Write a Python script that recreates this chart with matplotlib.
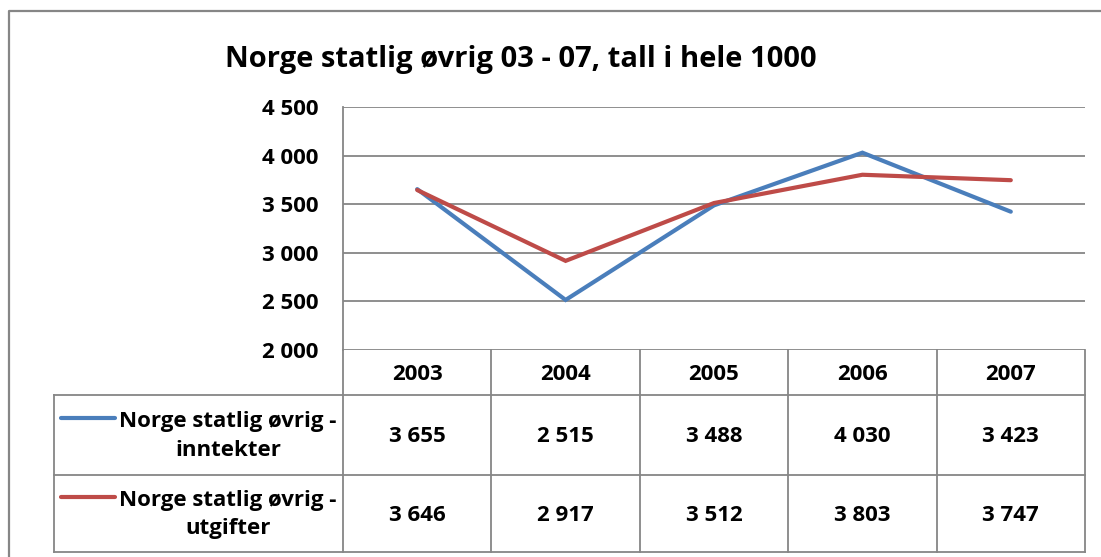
import numpy as np
import matplotlib.pyplot as plt
from matplotlib.lines import Line2D

plt.rcParams['font.family'] = ['Open Sans', 'DejaVu Sans']
plt.rcParams['font.weight'] = 'bold'

# data
years = ['2003', '2004', '2005', '2006', '2007']
inntekter = [3655, 2515, 3488, 4030, 3423]
utgifter = [3646, 2917, 3512, 3803, 3747]
series_names = ['Norge statlig øvrig -\ninntekter', 'Norge statlig øvrig -\nutgifter']
series_colors = ['#4A7EBB', '#BE4B48']
title = 'Norge statlig øvrig 03 - 07, tall i hele 1000'
yticks = [2000, 2500, 3000, 3500, 4000, 4500]

W, H = 1101, 557
grid_c = '#868686'

def px(l, t, r, b):
    return [l / W, 1 - b / H, (r - l) / W, (b - t) / H]

def fmt(v):
    return f'{v:,}'.replace(',', ' ')

fig = plt.figure(figsize=(W / 100, H / 100), dpi=100)

# outer chart frame
fig.add_artist(Line2D([9 / W, 9 / W, 1.0], [0.0, 1 - 11 / H, 1 - 11 / H],
                      transform=fig.transFigure, color=grid_c, lw=1.6))

fig.text(521 / W, 1 - 60 / H, title, ha='center', va='center', fontsize=21, fontweight='bold')

# plot area
ax = fig.add_axes(px(343, 107, 1085, 350))
x = np.arange(len(years))
series = [inntekter, utgifter]
for vals, c in zip(series, series_colors):
    ax.plot(x, vals, color=c, lw=3, solid_capstyle='round', solid_joinstyle='miter')
ax.set_xlim(-0.5, len(years) - 0.5)
ax.set_ylim(2000, 4500)
ax.set_yticks(yticks)
ax.set_yticklabels([fmt(v) for v in yticks], fontsize=16, fontweight='bold')
ax.set_xticks([])
ax.tick_params(axis='y', length=0, pad=18)
for s in ['top', 'right', 'bottom']:
    ax.spines[s].set_visible(False)
ax.spines['left'].set_color(grid_c)
ax.spines['left'].set_linewidth(1.3)
ax.grid(axis='y', color=grid_c, lw=1.3)
ax.set_axisbelow(True)

# data table below the plot, sharing the category scale
colw = (1085 - 343) / len(years)
xleft = -0.5 - (343 - 54) / colw
tab = fig.add_axes(px(54, 350, 1085, 552))
tab.set_xlim(xleft, len(years) - 0.5)
tab.set_ylim(202, 0)
tab.axis('off')
rows = [0, 45, 125, 202]
lk = dict(color=grid_c, lw=1.3, clip_on=False)
for xv in np.arange(len(years) + 1) - 0.5:
    tab.plot([xv, xv], [0, rows[-1]], **lk)
tab.plot([xleft, xleft], [rows[1], rows[-1]], **lk)
for yv in rows[1:]:
    tab.plot([xleft, len(years) - 0.5], [yv, yv], **lk)

for i, yr in enumerate(years):
    tab.text(i, (rows[0] + rows[1]) / 2 + 2, yr, ha='center', va='center', fontsize=16, fontweight='bold')

key_x = [xleft + 7 / colw, xleft + 61 / colw]
text_x = xleft + 174 / colw
for r, (vals, name, c) in enumerate(zip(series, series_names, series_colors)):
    ymid = (rows[r + 1] + rows[r + 2]) / 2
    tab.plot(key_x, [ymid - 17, ymid - 17], color=c, lw=3, solid_capstyle='round', clip_on=False)
    tab.text(text_x, ymid + 1, name, ha='center', va='center', fontsize=16,
             fontweight='bold', linespacing=1.45)
    for i, v in enumerate(vals):
        tab.text(i, ymid + 2, fmt(v), ha='center', va='center', fontsize=16, fontweight='bold')

fig.savefig('out.png', dpi=100)
